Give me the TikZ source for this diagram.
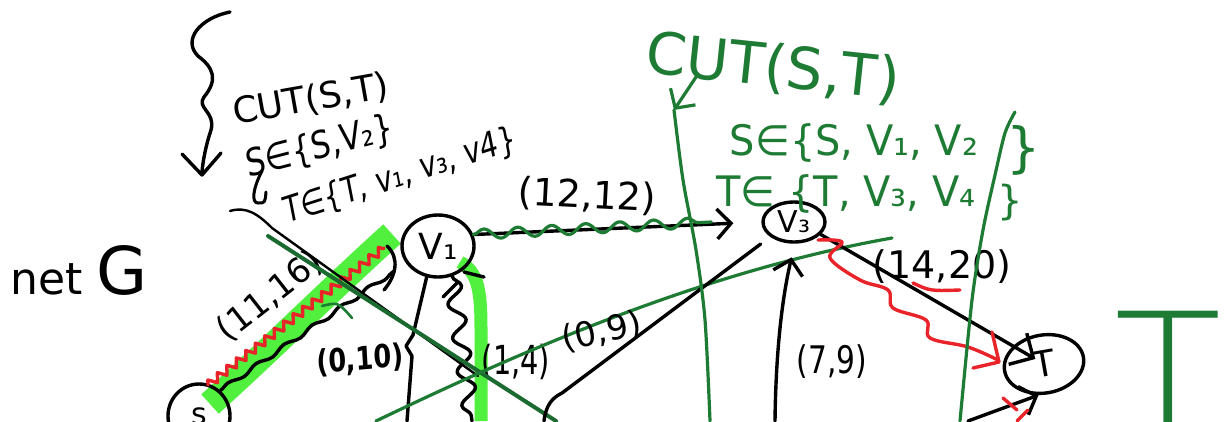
\documentclass[tikz,border=0pt]{standalone}
\usepackage{fontspec}
\setmainfont{DejaVu Sans}
\newfontfamily\thinpen{DejaVu Sans ExtraLight}
\usetikzlibrary{shapes.geometric,decorations.pathmorphing,arrows.meta}
\definecolor{cutgreen}{HTML}{1E7B34}
\definecolor{darkcut}{HTML}{1B6A30}
\definecolor{hilite}{HTML}{52F03E}
\definecolor{redpen}{HTML}{E8232A}
\tikzset{
  ink/.style={draw=black, line width=3.4pt},
  fine ink/.style={draw=black, line width=2.4pt},
  gink/.style={draw=cutgreen, line width=3.2pt},
  rink/.style={draw=redpen, line width=3.4pt},
  marker/.style={draw=hilite, line width=#1, line cap=butt},
  vertex/.style={ellipse, draw=black, line width=3.4pt, inner sep=0pt},
  txt/.style={inner sep=0pt, font=\fontsize{#1}{#1}\selectfont},
  boldtxt/.style={inner sep=0pt, font=\fontsize{#1}{#1}\selectfont\bfseries},
  gtxt/.style={txt=#1, text=cutgreen},
  barb/.style={-{Straight Barb[length=14pt, width=30pt]}},
  wave/.style={decorate, decoration={snake, amplitude=#1, segment length=34pt}},
  zig/.style={decorate, decoration={zigzag, amplitude=4pt, segment length=12pt}},
}
\begin{document}
\begin{tikzpicture}[x=1pt, y=-1pt, line cap=round, line join=round]
\fill[white] (0,0) rectangle (1228,421);
\useasboundingbox (0,0) rectangle (1228,421);

% highlighter strokes, underneath everything
\draw[marker=26pt] (210,404) .. controls (270,350) and (330,290) .. (392,234);
\draw[marker=13pt] (460,262) .. controls (478,272) and (481,290) .. (481,330) -- (481,421);

% vertices
\node[vertex, minimum width=72pt, minimum height=62pt, txt=36] (v1) at (438,246) {V₁};
\node[vertex, minimum width=62pt, minimum height=40pt, txt=30] (v3) at (794,222) {V₃};
\node[vertex, minimum width=80pt, minimum height=58pt, rotate=10, txt=36] (t) at (1044,364) {T};
\node[vertex, minimum width=62pt, minimum height=64pt, txt=30] (s) at (199,416) {s};

% loose ends of edges leaving the page
\coordinate (v2a) at (407,421);
\coordinate (v4a) at (472,421);
\coordinate (p09) at (544,421);
\coordinate (p79) at (775,421);
\coordinate (pb) at (968,421);

% s -> v1
\draw[ink, wave=2pt, shorten >=14pt] (s.50) -- (v1.208);
\draw[ink] (387,246) .. controls (400,258) and (396,276) .. (384,290);
\draw[rink, zig] (208,385) -- (384,248);
\node[txt=34, rotate=38] (f1) at (270,296) {(11,16)};

% v1 -> v3
\draw[ink, barb, shorten >=28pt] (v1.18) -- (v3.west);
\draw[gink, wave=5pt] (v1.18) -- ([xshift=-50pt]v3.west);
\node[txt=38, rotate=-3] (f2) at (587,196) {(12,12)};

% v1 -- v2
\draw[ink] (v1.250) -- (413,335) -- (406,346) -- (412,356) -- (v2a);
\node[boldtxt=32, xscale=.8, rotate=4] (f3) at (360,360) {(0,10)};

% v2 -> v1 (wavy)
\draw[ink, decorate, decoration={snake, amplitude=8pt, segment length=34pt}] (v1.295) -- (v4a);
\draw[ink] (443,297) -- (457,283);
\draw[ink] (464,272) -- (484,277);
\node[txt=40, xscale=.72] (f4) at (516,362) {(1,4)};

% crossing strokes
\draw[fine ink] (230,211) .. controls (246,206) and (258,214) .. (272,228) -- (478,376);
\draw[draw=darkcut, line width=4pt] (268,236) -- (556,421);
\draw[gink, line width=2.6pt] (322,306) .. controls (338,302) .. (352,318);
\draw[gink] (376,421) .. controls (520,352) and (700,272) .. (892,238);

% edges into v3
\draw[ink, shorten >=12pt] (p09) .. controls (546,405) and (552,398) .. (562,393) -- (v3.212);
\node[txt=34, rotate=12] (f5) at (602,332) {(0,9)};
\draw[ink, barb, shorten >=14pt] (p79) .. controls (776,340) and (784,290) .. (v3.272);
\node[txt=38, xscale=.78] (f6) at (832,362) {(7,9)};

% v3 -> t
\draw[ink, -{Straight Barb[length=18pt, width=36pt]}, shorten >=10pt] (v3.335) -- (t.center);
\node[txt=38] (f7) at (942,267) {(14,20)};
\draw[rink] (913,283) .. controls (930,291) .. (960,290);
\draw[rink] plot[smooth, tension=.6] coordinates {(818,240) (842,242) (830,258) (860,280) (888,290) (893,308) (926,320) (930,338) (968,347) (998,360)};
\draw[rink] (992,332) -- (999,362) -- (973,368);

% edge into t from below
\draw[ink, barb] (pb) -- (t.250);
\draw[rink] (1003,398) -- (1017,410);
\draw[rink] (1028,410) -- (1017,421);

% cut lines
\draw[gink] plot[smooth] coordinates {(674,110) (683,180) (696,250) (705,320) (710,421)};
\draw[gink] plot[smooth] coordinates {(1015,112) (1005,133) (995,175) (983,230) (972,300) (960,421)};

% cut annotation
\node[gtxt=58, rotate=-6] (gcut) at (773,68) {CUT(S,T)};
\coordinate (gfrom) at (698,74);
\coordinate (gto) at (674,110);
\draw[gink, barb] (gfrom) -- (gto);
\node[gtxt=42, xscale=.95] (gS) at (854,143) {S∈\{S, V₁, V₂};
\node[gtxt=54] (gSb) at (1024,150) {\}};
\node[gtxt=42, xscale=.95] (gT) at (846,194) {T∈ \{T, V₃, V₄};
\node[gtxt=40] (gTb) at (1010,203) {\}};
\node[text=cutgreen, inner sep=0pt, font=\thinpen\fontsize{176}{176}\selectfont, anchor=north] (bigT) at (1168,311) {T};

% notes at the top left
\draw[ink] (230,12) .. controls (200,18) and (182,40) .. (198,56) .. controls (214,68) and (218,80) .. (204,97) .. controls (196,108) and (216,112) .. (211,130) .. controls (206,145) and (203,160) .. (202,172);
\draw[ink] (182,154) -- (202,175) -- (221,153);
\node[txt=36, rotate=10] (bcut) at (311,100) {CUT(S,T)};
\node[txt=38, xscale=.82, rotate=12] (bS) at (320,147) {S∈\{S,V₂\}};
\draw[ink, line width=3pt] (262,171) .. controls (253,188) and (251,203) .. (258,203) .. controls (265,203) .. (266,192);
\node[txt=36, xscale=.78, rotate=14] (bT) at (400,176) {T∈\{T, v₁, v₃, v4\}};
\node[txt=44, anchor=base west] (net) at (10,294) {net \fontsize{66}{66}\selectfont G};
\end{tikzpicture}
\end{document}
